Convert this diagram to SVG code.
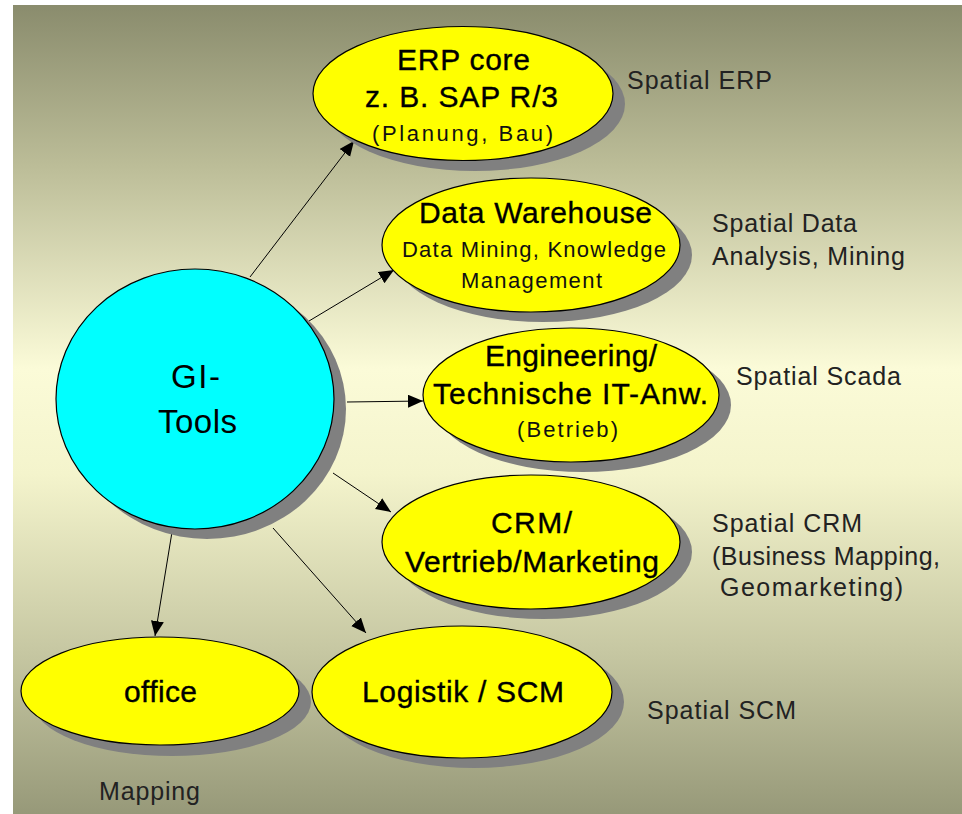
<svg xmlns="http://www.w3.org/2000/svg" width="962" height="814" viewBox="0 0 962 814">
<defs>
<linearGradient id="bg" x1="0" y1="0" x2="0" y2="1">
<stop offset="0" stop-color="#8a8c6d"/>
<stop offset="0.2" stop-color="#bcbd98"/>
<stop offset="0.45" stop-color="#fbfbd8"/>
<stop offset="0.58" stop-color="#f4f4cc"/>
<stop offset="0.8" stop-color="#c6c7a2"/>
<stop offset="1" stop-color="#979979"/>
</linearGradient>
<marker id="ah" markerUnits="userSpaceOnUse" markerWidth="16" markerHeight="14" refX="15" refY="6.5" orient="auto">
<path d="M0,0 L15,6.5 L0,13 z" fill="#000"/>
</marker>
<style>
.shadow{fill:#808080}
.yel{fill:#ffff00;stroke:#000;stroke-width:1.2}
.cyan{fill:#00ffff;stroke:#000;stroke-width:1.2}
.t{font-family:"Liberation Sans",Arial,sans-serif;fill:#000}
.big{font-size:30px;stroke:#000;stroke-width:0.35}
.sm{font-size:22px;fill:#111}
.lbl{font-family:"Liberation Sans",Arial,sans-serif;font-size:25px;fill:#222}
.con{stroke:#000;stroke-width:1;fill:none;marker-end:url(#ah)}
</style>
</defs>
<rect x="0" y="0" width="962" height="814" fill="#ffffff"/>
<rect x="13" y="5" width="949" height="809" fill="url(#bg)"/>

<g id="connectors">
<line class="con" x1="250" y1="277" x2="354" y2="141"/>
<line class="con" x1="309" y1="321" x2="394" y2="270"/>
<line class="con" x1="347" y1="402" x2="423" y2="401"/>
<line class="con" x1="333" y1="473" x2="391" y2="512"/>
<line class="con" x1="273" y1="528" x2="366" y2="633"/>
<line class="con" x1="172" y1="532" x2="155" y2="636"/>
</g>

<g id="gi-tools">
<ellipse class="shadow" cx="207" cy="409" rx="139" ry="130"/>
<ellipse class="cyan" cx="195" cy="399" rx="139" ry="130"/>
<text class="t" font-size="33" x="171" y="388" textLength="49">GI-</text>
<text class="t" font-size="33" x="158" y="433" textLength="79">Tools</text>
</g>

<g id="erp">
<ellipse class="shadow" cx="475" cy="104" rx="150" ry="67"/>
<ellipse class="yel" cx="463" cy="93.5" rx="150" ry="67"/>
<text class="t big" x="397" y="70" textLength="133">ERP core</text>
<text class="t big" x="365" y="107" textLength="193">z. B. SAP R/3</text>
<text class="t sm" font-size="23" x="372" y="141" textLength="181">(Planung, Bau)</text>
</g>

<g id="datawarehouse">
<ellipse class="shadow" cx="543" cy="255" rx="149" ry="67"/>
<ellipse class="yel" cx="531" cy="245" rx="149" ry="67"/>
<text class="t big" x="419" y="223" textLength="233">Data Warehouse</text>
<text class="t sm" x="402" y="257" textLength="264">Data Mining, Knowledge</text>
<text class="t sm" x="461" y="288" textLength="141">Management</text>
</g>

<g id="engineering">
<ellipse class="shadow" cx="583" cy="405" rx="148" ry="67"/>
<ellipse class="yel" cx="571" cy="395" rx="148" ry="67"/>
<text class="t big" x="485" y="366" textLength="172">Engineering/</text>
<text class="t big" x="433" y="404" textLength="275">Technische IT-Anw.</text>
<text class="t sm" font-size="23" x="517" y="437" textLength="101">(Betrieb)</text>
</g>

<g id="crm">
<ellipse class="shadow" cx="543" cy="552" rx="149" ry="67"/>
<ellipse class="yel" cx="531" cy="542" rx="149" ry="67"/>
<text class="t big" x="491" y="533" textLength="81">CRM/</text>
<text class="t big" x="405" y="572" textLength="254">Vertrieb/Marketing</text>
</g>

<g id="logistik">
<ellipse class="shadow" cx="474" cy="702" rx="150" ry="66"/>
<ellipse class="yel" cx="462" cy="692" rx="150" ry="66"/>
<text class="t big" x="362" y="702" textLength="202">Logistik / SCM</text>
</g>

<g id="office">
<ellipse class="shadow" cx="172" cy="702" rx="139" ry="54"/>
<ellipse class="yel" cx="160" cy="691" rx="139" ry="54"/>
<text class="t big" font-size="29" x="124" y="702" textLength="73">office</text>
</g>

<g id="labels">
<text class="lbl" x="627" y="89" textLength="145">Spatial ERP</text>
<text class="lbl" x="712" y="232" textLength="145">Spatial Data</text>
<text class="lbl" x="712" y="265" textLength="193">Analysis, Mining</text>
<text class="lbl" x="736" y="385" textLength="165">Spatial Scada</text>
<text class="lbl" x="712" y="532" textLength="150">Spatial CRM</text>
<text class="lbl" x="712" y="565" textLength="228">(Business Mapping,</text>
<text class="lbl" x="720" y="596" textLength="183">Geomarketing)</text>
<text class="lbl" x="647" y="719" textLength="149">Spatial SCM</text>
<text class="lbl" x="99" y="800" textLength="101">Mapping</text>
</g>
</svg>
